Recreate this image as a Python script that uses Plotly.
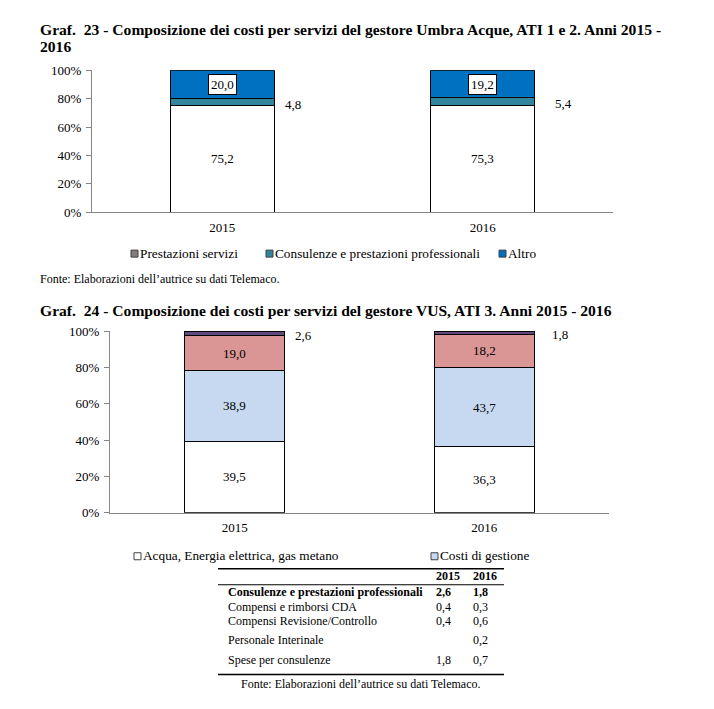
import plotly.graph_objects as go

W, H = 714, 709
FONT = "Liberation Serif"

# ---------------- data ----------------
years = ["2015", "2016"]

# Graf. 23 (Umbra Acque)
c1_names = ["Prestazioni servizi", "Consulenze e prestazioni professionali", "Altro"]
c1_prest = [75.2, 75.3]
c1_cons = [4.8, 5.4]
c1_altro = [20.0, 19.2]

# Graf. 24 (VUS)
c2_names = ["Acqua, Energia elettrica, gas metano", "Costi di gestione",
            "Altri costi", "Consulenze e prestazioni professionali"]
c2_acqua = [39.5, 36.3]
c2_gest = [38.9, 43.7]
c2_altri = [19.0, 18.2]
c2_cons = [2.6, 1.8]

yticks = [0, 20, 40, 60, 80, 100]
ytick_text = ["0%", "20%", "40%", "60%", "80%", "100%"]

# table
tab_header = ["2015", "2016"]
tab_rows = ["Consulenze e prestazioni professionali", "Compensi e rimborsi CDA",
            "Compensi Revisione/Controllo", "Personale Interinale", "Spese per consulenze"]
tab_2015 = ["2,6", "0,4", "0,4", "", "1,8"]
tab_2016 = ["1,8", "0,3", "0,6", "0,2", "0,7"]

titles = ["Graf.  23 - Composizione dei costi per servizi del gestore Umbra Acque, ATI 1 e 2. Anni 2015 -",
          "2016",
          "Graf.  24 - Composizione dei costi per servizi del gestore VUS, ATI 3. Anni 2015 - 2016"]
fonte = "Fonte: Elaborazioni dell\u2019autrice su dati Telemaco."

xpos = list(range(len(years)))          # category index positions
bounds = [i - 0.5 for i in range(len(years) + 1)]

# page placement correction (page offset of the rendered figure)
OX, OY, SY = 7.0, 15.6, 0.98


def px(x):
    return (x - OX) / W


def py(y):
    return 1 - ((y - OY) / SY) / H


def fmt(v):
    return f"{v:.1f}".replace(".", ",")


fig = go.Figure()
annotations = []
LABEL_FONT = dict(family=FONT, size=13, color="#000000")

# --------- chart 1 ---------
c1_series = [
    (c1_names[0], c1_prest, "#FFFFFF", "inside"),
    (c1_names[1], c1_cons, "#31859C", "right"),
    (c1_names[2], c1_altro, "#0070C0", "boxed"),
]
c1_shift = [71, 81]
base = [0.0, 0.0]
for name, vals, col, lab in c1_series:
    fig.add_trace(go.Bar(x=xpos, y=vals, name=name,
                         marker=dict(color=col, line=dict(color="#000000", width=1)),
                         width=0.4, xaxis="x", yaxis="y", showlegend=False))
    for i, v in enumerate(vals):
        mid = base[i] + v / 2
        a = dict(x=xpos[i], y=mid, xref="x", yref="y", text=fmt(v), showarrow=False, font=LABEL_FONT)
        if lab == "right":
            a["xshift"] = c1_shift[i]
            a["yshift"] = -2
        elif lab == "boxed":
            a.update(bgcolor="#FFFFFF", bordercolor="#000000", borderwidth=1, borderpad=2)
        annotations.append(a)
        base[i] += v

# --------- chart 2 ---------
c2_series = [
    (c2_names[0], c2_acqua, "#FFFFFF", "inside"),
    (c2_names[1], c2_gest, "#C6D9F1", "inside"),
    (c2_names[2], c2_altri, "#D99694", "inside"),
    (c2_names[3], c2_cons, "#604A7B", "right"),
]
c2_shift = [69, 76]
base = [0.0, 0.0]
for name, vals, col, lab in c2_series:
    fig.add_trace(go.Bar(x=xpos, y=vals, name=name,
                         marker=dict(color=col, line=dict(color="#000000", width=1)),
                         width=0.4, xaxis="x2", yaxis="y2", showlegend=False))
    for i, v in enumerate(vals):
        mid = base[i] + v / 2
        a = dict(x=xpos[i], y=mid, xref="x2", yref="y2", text=fmt(v), showarrow=False, font=LABEL_FONT)
        if lab == "right":
            a["xshift"] = c2_shift[i]
            a["yshift"] = -2
        annotations.append(a)
        base[i] += v

TICKFONT = dict(family=FONT, size=13, color="#000000")
AX = "#868686"


def xax(domain, anchor):
    return dict(domain=domain, anchor=anchor, type="linear", range=[bounds[0], bounds[-1]],
                tickmode="array", tickvals=xpos, ticktext=years, ticks="", ticklabelstandoff=3,
                showline=True, linecolor=AX, linewidth=1, showgrid=False, zeroline=False,
                tickfont=TICKFONT)


def xax_b(domain, anchor, over):
    # boundary tick marks between categories
    return dict(domain=domain, anchor=anchor, overlaying=over, type="linear", range=[bounds[0], bounds[-1]],
                tickmode="array", tickvals=bounds, showticklabels=False, ticks="outside",
                ticklen=5, tickcolor=AX, showline=False, showgrid=False, zeroline=False)


def yax(domain, anchor):
    return dict(domain=domain, anchor=anchor, type="linear", range=[0, 100],
                tickmode="array", tickvals=yticks, ticktext=ytick_text, ticks="outside",
                ticklen=5, tickcolor=AX, showline=True, linecolor=AX, linewidth=1, ticklabelstandoff=2,
                showgrid=False, zeroline=False, tickfont=TICKFONT)


d1x, d1y = [px(91), px(612)], [py(213), py(71)]
d2x, d2y = [px(109), px(608)], [py(514), py(332)]

fig.update_layout(
    width=W, height=H, margin=dict(l=0, r=0, t=0, b=0, pad=0),
    paper_bgcolor="#FFFFFF", plot_bgcolor="#FFFFFF",
    barmode="stack", showlegend=False, hovermode=False,
    xaxis=xax(d1x, "y"), yaxis=yax(d1y, "x"),
    xaxis2=xax(d2x, "y2"), yaxis2=yax(d2y, "x2"),
    xaxis3=xax_b(d1x, "y", "x"), xaxis4=xax_b(d2x, "y2", "x2"),
)

shapes = []


def text(x, y, s, size=13, bold=False, anchor="left"):
    annotations.append(dict(x=px(x), y=py(y), xref="paper", yref="paper", text=(f"<b>{s}</b>" if bold else s),
                            showarrow=False, xanchor=anchor, yanchor="middle",
                            font=dict(family=FONT, size=size, color="#000000")))


# titles
text(37, 30, titles[0], size=15.6, bold=True)
text(37, 47, titles[1], size=15.6, bold=True)
text(37, 311, titles[2], size=15.6, bold=True)

# legend chart 1
leg1 = [(130, "#7F7F7F", c1_names[0]), (265, "#31859C", c1_names[1]), (498, "#0070C0", c1_names[2])]
for x0, col, name in leg1:
    shapes.append(dict(type="rect", xref="paper", yref="paper", x0=px(x0), x1=px(x0 + 7), y0=py(258), y1=py(251),
                       fillcolor=col, line=dict(color="#404040", width=1)))
    text(x0 + 7, 254, name, size=13.3)

text(37, 280, fonte, size=12)

# legend chart 2
leg2 = [(133, "#FFFFFF", c2_names[0]), (430, "#C6D9F1", c2_names[1])]
for x0, col, name in leg2:
    shapes.append(dict(type="rect", xref="paper", yref="paper", x0=px(x0), x1=px(x0 + 7), y0=py(561), y1=py(554),
                       fillcolor=col, line=dict(color="#404040", width=1)))
    text(x0 + 7, 557, name, size=13.3)

# table
tx0, tx1 = 217, 503
c15, c16 = 433, 470
for yline, w in [(570, 1.5), (586, 1.2), (676, 1.5)]:
    shapes.append(dict(type="line", xref="paper", yref="paper", x0=px(tx0), x1=px(tx1), y0=py(yline), y1=py(yline),
                       line=dict(color="#000000", width=w)))
text(c15, 577, tab_header[0], size=12, bold=True)
text(c16, 577, tab_header[1], size=12, bold=True)
row_y = [593, 608, 622, 641, 661]
for i, (r, a, b) in enumerate(zip(tab_rows, tab_2015, tab_2016)):
    bold = i == 0
    text(225, row_y[i], r, size=12, bold=bold)
    if a:
        text(c15, row_y[i], a, size=12, bold=bold)
    if b:
        text(c16, row_y[i], b, size=12, bold=bold)
text(360, 685, fonte, size=12, anchor="center")

fig.update_layout(annotations=annotations, shapes=shapes)
fig.write_html("out.html", config={"displayModeBar": False})
